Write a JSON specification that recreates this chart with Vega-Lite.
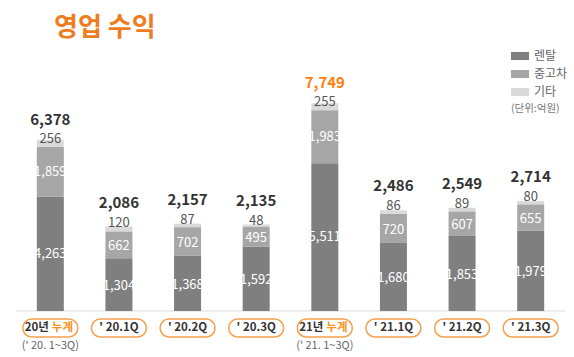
{
  "$schema": "https://vega.github.io/schema/vega-lite/v6.json",
  "width": 549,
  "height": 357,
  "autosize": {"type": "none"},
  "padding": {"left": 16, "right": 9, "top": 0, "bottom": 0},
  "background": "white",
  "config": {"view": {"stroke": null}, "font": "Noto Sans CJK KR"},
  "title": {"text": "영업 수익", "anchor": "start", "frame": "group", "orient": "top", "dx": 38, "offset": -41, "fontSize": 26, "font": "Noto Sans CJK KR", "fontWeight": "bold", "color": "#EE7D22"},
  "datasets": {
    "rev": [
      {"cat": "20년 누계", "type": "렌탈", "value": 4263},
      {"cat": "20년 누계", "type": "중고차", "value": 1859},
      {"cat": "20년 누계", "type": "기타", "value": 256},
      {"cat": "' 20.1Q", "type": "렌탈", "value": 1304},
      {"cat": "' 20.1Q", "type": "중고차", "value": 662},
      {"cat": "' 20.1Q", "type": "기타", "value": 120},
      {"cat": "' 20.2Q", "type": "렌탈", "value": 1368},
      {"cat": "' 20.2Q", "type": "중고차", "value": 702},
      {"cat": "' 20.2Q", "type": "기타", "value": 87},
      {"cat": "' 20.3Q", "type": "렌탈", "value": 1592},
      {"cat": "' 20.3Q", "type": "중고차", "value": 495},
      {"cat": "' 20.3Q", "type": "기타", "value": 48},
      {"cat": "21년 누계", "type": "렌탈", "value": 5511},
      {"cat": "21년 누계", "type": "중고차", "value": 1983},
      {"cat": "21년 누계", "type": "기타", "value": 255},
      {"cat": "' 21.1Q", "type": "렌탈", "value": 1680},
      {"cat": "' 21.1Q", "type": "중고차", "value": 720},
      {"cat": "' 21.1Q", "type": "기타", "value": 86},
      {"cat": "' 21.2Q", "type": "렌탈", "value": 1853},
      {"cat": "' 21.2Q", "type": "중고차", "value": 607},
      {"cat": "' 21.2Q", "type": "기타", "value": 89},
      {"cat": "' 21.3Q", "type": "렌탈", "value": 1979},
      {"cat": "' 21.3Q", "type": "중고차", "value": 655},
      {"cat": "' 21.3Q", "type": "기타", "value": 80}
    ],
    "cats": [
      {"cat": "20년 누계", "kind": "누계", "p1": "20년", "p2": "누계", "sub": "(' 20. 1~3Q)"},
      {"cat": "' 20.1Q", "kind": "분기", "p1": "' 20.1Q", "p2": "", "sub": ""},
      {"cat": "' 20.2Q", "kind": "분기", "p1": "' 20.2Q", "p2": "", "sub": ""},
      {"cat": "' 20.3Q", "kind": "분기", "p1": "' 20.3Q", "p2": "", "sub": ""},
      {"cat": "21년 누계", "kind": "누계", "p1": "21년", "p2": "누계", "sub": "(' 21. 1~3Q)"},
      {"cat": "' 21.1Q", "kind": "분기", "p1": "' 21.1Q", "p2": "", "sub": ""},
      {"cat": "' 21.2Q", "kind": "분기", "p1": "' 21.2Q", "p2": "", "sub": ""},
      {"cat": "' 21.3Q", "kind": "분기", "p1": "' 21.3Q", "p2": "", "sub": ""}
    ]
  },
  "resolve": {"scale": {"y": "independent"}, "axis": {"y": "independent"}},
  "layer": [
    {
      "data": {"name": "cats"},
      "transform": [{"filter": "datum.cat == '20년 누계'"}],
      "mark": {"type": "rule", "color": "#EDEDED", "strokeWidth": 2},
      "encoding": {
        "y": {"datum": 0, "type": "quantitative", "scale": {"domain": [-1136, 7679], "nice": false, "zero": false}, "axis": null}
      }
    },
    {
      "data": {"name": "rev"},
      "transform": [
        {"calculate": "indexof(['렌탈','중고차','기타'], datum.type)", "as": "k"},
        {"stack": "value", "groupby": ["cat"], "sort": [{"field": "k", "order": "ascending"}], "as": ["y0", "y1"]},
        {"filter": "indexof(datum.cat, '누계') >= 0"}
      ],
      "mark": {"type": "bar", "width": 27},
      "encoding": {
        "x": {"field": "cat", "type": "nominal", "scale": {"type": "band", "domain": ["20년 누계", "' 20.1Q", "' 20.2Q", "' 20.3Q", "21년 누계", "' 21.1Q", "' 21.2Q", "' 21.3Q"], "paddingInner": 0, "paddingOuter": 0}, "axis": null},
        "y": {"field": "y1", "type": "quantitative", "scale": {"domain": [-1716, 11604], "nice": false, "zero": false}, "axis": null},
        "y2": {"field": "y0"},
        "color": {
          "field": "type", "type": "nominal", "sort": ["렌탈", "중고차", "기타"],
          "scale": {"domain": ["렌탈", "중고차", "기타"], "range": ["#7F7F7F", "#A6A6A6", "#D9D9D9"]},
          "legend": {"orient": "none", "legendX": 495, "legendY": 47, "title": "(단위:억원)", "titleOrient": "bottom", "titleAnchor": "start", "symbolType": "M-1,-0.45H1V0.45H-1Z", "symbolSize": 324, "symbolStrokeWidth": 0, "symbolOpacity": 1, "labelFont": "Noto Sans CJK KR", "labelFontSize": 12, "labelColor": "#666666", "labelOffset": 5, "rowPadding": 3, "titleFont": "Noto Sans CJK KR", "titleFontSize": 10.5, "titleFontWeight": "normal", "titleColor": "#777777", "titlePadding": 6}
        }
      }
    },
    {
      "data": {"name": "rev"},
      "transform": [
        {"calculate": "indexof(['렌탈','중고차','기타'], datum.type)", "as": "k"},
        {"stack": "value", "groupby": ["cat"], "sort": [{"field": "k", "order": "ascending"}], "as": ["y0", "y1"]},
        {"filter": "indexof(datum.cat, '누계') < 0"}
      ],
      "mark": {"type": "bar", "width": 27},
      "encoding": {
        "x": {"field": "cat", "type": "nominal", "scale": {"type": "band", "domain": ["20년 누계", "' 20.1Q", "' 20.2Q", "' 20.3Q", "21년 누계", "' 21.1Q", "' 21.2Q", "' 21.3Q"], "paddingInner": 0, "paddingOuter": 0}, "axis": null},
        "y": {"field": "y1", "type": "quantitative", "scale": {"domain": [-1136, 7679], "nice": false, "zero": false}, "axis": null},
        "y2": {"field": "y0"},
        "color": {"field": "type", "type": "nominal", "sort": ["렌탈", "중고차", "기타"]}
      }
    },
    {
      "data": {"name": "rev"},
      "transform": [
        {"calculate": "indexof(['렌탈','중고차','기타'], datum.type)", "as": "k"},
        {"stack": "value", "groupby": ["cat"], "sort": [{"field": "k", "order": "ascending"}], "as": ["y0", "y1"]},
        {"calculate": "(datum.y0 + datum.y1) / 2", "as": "mid"},
        {"filter": "indexof(datum.cat, '누계') >= 0 && datum.type != '기타'"}
      ],
      "mark": {"type": "text", "color": "white", "fontSize": 13, "baseline": "middle", "font": "Noto Sans CJK KR"},
      "encoding": {
        "x": {"field": "cat", "type": "nominal", "axis": null},
        "y": {"field": "mid", "type": "quantitative", "scale": {"domain": [-1716, 11604], "nice": false, "zero": false}, "axis": null},
        "text": {"field": "value", "type": "quantitative", "format": ","}
      }
    },
    {
      "data": {"name": "rev"},
      "transform": [
        {"calculate": "indexof(['렌탈','중고차','기타'], datum.type)", "as": "k"},
        {"stack": "value", "groupby": ["cat"], "sort": [{"field": "k", "order": "ascending"}], "as": ["y0", "y1"]},
        {"calculate": "(datum.y0 + datum.y1) / 2", "as": "mid"},
        {"filter": "indexof(datum.cat, '누계') < 0 && datum.type != '기타'"}
      ],
      "mark": {"type": "text", "color": "white", "fontSize": 13, "baseline": "middle", "dy": 1.5, "font": "Noto Sans CJK KR"},
      "encoding": {
        "x": {"field": "cat", "type": "nominal", "axis": null},
        "y": {"field": "mid", "type": "quantitative", "scale": {"domain": [-1136, 7679], "nice": false, "zero": false}, "axis": null},
        "text": {"field": "value", "type": "quantitative", "format": ","}
      }
    },
    {
      "data": {"name": "rev"},
      "transform": [
        {"calculate": "indexof(['렌탈','중고차','기타'], datum.type)", "as": "k"},
        {"stack": "value", "groupby": ["cat"], "sort": [{"field": "k", "order": "ascending"}], "as": ["y0", "y1"]},
        {"filter": "indexof(datum.cat, '누계') >= 0 && datum.type == '기타'"}
      ],
      "mark": {"type": "text", "color": "#555555", "fontSize": 13, "baseline": "middle", "dy": -1, "font": "Noto Sans CJK KR"},
      "encoding": {
        "x": {"field": "cat", "type": "nominal", "axis": null},
        "y": {"field": "y1", "type": "quantitative", "scale": {"domain": [-1716, 11604], "nice": false, "zero": false}, "axis": null},
        "text": {"field": "value", "type": "quantitative", "format": ","}
      }
    },
    {
      "data": {"name": "rev"},
      "transform": [
        {"calculate": "indexof(['렌탈','중고차','기타'], datum.type)", "as": "k"},
        {"stack": "value", "groupby": ["cat"], "sort": [{"field": "k", "order": "ascending"}], "as": ["y0", "y1"]},
        {"filter": "indexof(datum.cat, '누계') < 0 && datum.type == '기타'"}
      ],
      "mark": {"type": "text", "color": "#555555", "fontSize": 13, "baseline": "middle", "dy": -4, "font": "Noto Sans CJK KR"},
      "encoding": {
        "x": {"field": "cat", "type": "nominal", "axis": null},
        "y": {"field": "y1", "type": "quantitative", "scale": {"domain": [-1136, 7679], "nice": false, "zero": false}, "axis": null},
        "text": {"field": "value", "type": "quantitative", "format": ","}
      }
    },
    {
      "data": {"name": "rev"},
      "transform": [
        {"calculate": "indexof(['렌탈','중고차','기타'], datum.type)", "as": "k"},
        {"stack": "value", "groupby": ["cat"], "sort": [{"field": "k", "order": "ascending"}], "as": ["y0", "y1"]},
        {"filter": "indexof(datum.cat, '누계') >= 0 && datum.type == '기타'"}
      ],
      "mark": {"type": "text", "fontSize": 15, "fontWeight": "bold", "baseline": "middle", "dy": -20, "font": "Noto Sans CJK KR"},
      "encoding": {
        "x": {"field": "cat", "type": "nominal", "axis": null},
        "y": {"field": "y1", "type": "quantitative", "scale": {"domain": [-1716, 11604], "nice": false, "zero": false}, "axis": null},
        "text": {"field": "y1", "type": "quantitative", "format": ","},
        "color": {"condition": {"test": "datum.cat == '21년 누계'", "value": "#FF7F0E"}, "value": "#333333"}
      }
    },
    {
      "data": {"name": "rev"},
      "transform": [
        {"calculate": "indexof(['렌탈','중고차','기타'], datum.type)", "as": "k"},
        {"stack": "value", "groupby": ["cat"], "sort": [{"field": "k", "order": "ascending"}], "as": ["y0", "y1"]},
        {"filter": "indexof(datum.cat, '누계') < 0 && datum.type == '기타'"}
      ],
      "mark": {"type": "text", "fontSize": 15, "fontWeight": "bold", "baseline": "middle", "dy": -24, "color": "#333333", "font": "Noto Sans CJK KR"},
      "encoding": {
        "x": {"field": "cat", "type": "nominal", "axis": null},
        "y": {"field": "y1", "type": "quantitative", "scale": {"domain": [-1136, 7679], "nice": false, "zero": false}, "axis": null},
        "text": {"field": "y1", "type": "quantitative", "format": ","}
      }
    },
    {
      "data": {"name": "cats"},
      "mark": {"type": "bar", "width": 55, "cornerRadius": 9, "fill": "white", "stroke": "#F5A04E", "strokeWidth": 1.5},
      "encoding": {
        "x": {"field": "cat", "type": "nominal", "axis": null},
        "y": {"datum": -198, "type": "quantitative", "scale": {"domain": [-1136, 7679], "nice": false, "zero": false}, "axis": null},
        "y2": {"datum": -642}
      }
    },
    {
      "data": {"name": "cats"},
      "transform": [{"filter": "datum.kind == '분기'"}],
      "mark": {"type": "text", "fontSize": 11.5, "fontWeight": "bold", "baseline": "middle", "color": "#333333", "font": "Noto Sans CJK KR"},
      "encoding": {
        "x": {"field": "cat", "type": "nominal", "axis": null},
        "y": {"datum": -420, "type": "quantitative", "scale": {"domain": [-1136, 7679], "nice": false, "zero": false}, "axis": null},
        "text": {"field": "p1"}
      }
    },
    {
      "data": {"name": "cats"},
      "transform": [{"filter": "datum.kind == '누계'"}],
      "mark": {"type": "text", "fontSize": 11.5, "fontWeight": "bold", "baseline": "middle", "align": "right", "dx": -1.5, "color": "#333333", "font": "Noto Sans CJK KR"},
      "encoding": {
        "x": {"field": "cat", "type": "nominal", "axis": null},
        "y": {"datum": -420, "type": "quantitative", "scale": {"domain": [-1136, 7679], "nice": false, "zero": false}, "axis": null},
        "text": {"field": "p1"}
      }
    },
    {
      "data": {"name": "cats"},
      "transform": [{"filter": "datum.kind == '누계'"}],
      "mark": {"type": "text", "fontSize": 11.5, "fontWeight": "bold", "baseline": "middle", "align": "left", "dx": 1.5, "color": "#F7931E", "font": "Noto Sans CJK KR"},
      "encoding": {
        "x": {"field": "cat", "type": "nominal", "axis": null},
        "y": {"datum": -420, "type": "quantitative", "scale": {"domain": [-1136, 7679], "nice": false, "zero": false}, "axis": null},
        "text": {"field": "p2"}
      }
    },
    {
      "data": {"name": "cats"},
      "transform": [{"filter": "datum.kind == '누계'"}],
      "mark": {"type": "text", "fontSize": 11, "baseline": "middle", "color": "#666666", "font": "Noto Sans CJK KR"},
      "encoding": {
        "x": {"field": "cat", "type": "nominal", "axis": null},
        "y": {"datum": -864, "type": "quantitative", "scale": {"domain": [-1136, 7679], "nice": false, "zero": false}, "axis": null},
        "text": {"field": "sub"}
      }
    }
  ]
}
